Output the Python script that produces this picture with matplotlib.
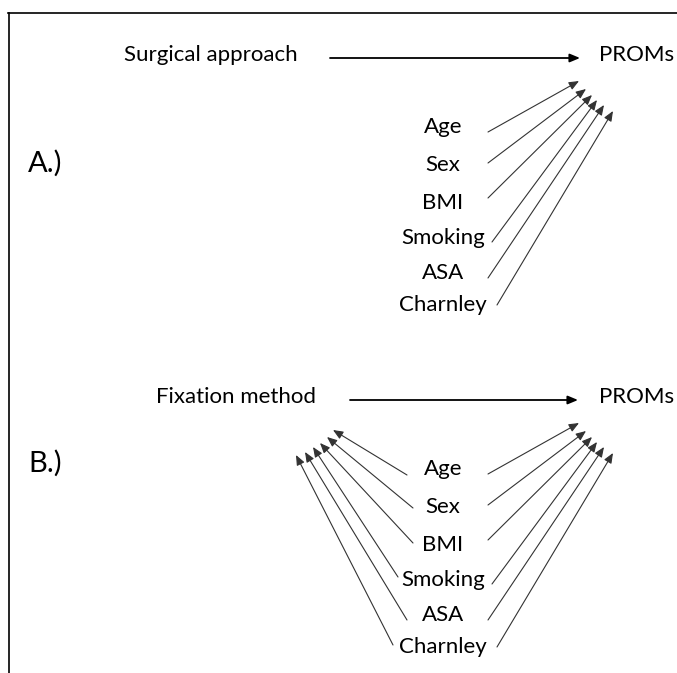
import matplotlib
matplotlib.use("Agg")
import matplotlib.pyplot as plt
from matplotlib.lines import Line2D

plt.rcParams['font.family'] = ['Lato', 'DejaVu Sans']

# Diagram content
covariates = ['Age', 'Sex', 'BMI', 'Smoking', 'ASA', 'Charnley']
exposures  = ['Surgical approach', 'Fixation method']
outcome    = 'PROMs'
panels     = ['A.)', 'B.)']
confounded = [False, True]   # does covariate also point at the exposure

# Layout (pixels, panel A; panel B is shifted down)
panel_shift = [0, 342]
label_x     = 443
label_y     = [127, 165, 203, 238, 273, 305]
# covariate -> outcome arrows
out_tail = [(488, 132), (488, 163), (488, 198), (492, 242), (488, 278), (497, 305)]
out_head = [(579, 81), (586, 89), (592, 95), (597, 100), (604, 105), (613, 111)]
# covariate -> exposure arrows (panel B only)
exp_tail = [(407, 133), (413, 166), (413, 201), (398, 235), (407, 278), (393, 303)]
exp_head = [(333, 88), (327, 95), (320, 101), (313, 105), (305, 110), (296, 113)]
exp_x    = [211, 236]
title_y  = 55
main_arrow = [(330, 580), (350, 578)]
panel_lab_y = [163, 463]

fig = plt.figure(figsize=(6.77, 6.73), dpi=100)
ax = fig.add_axes([0, 0, 1, 1])
ax.set_xlim(0, 677)
ax.set_ylim(673, 0)
ax.axis('off')

# frame lines (top and left)
fig.add_artist(Line2D([8 / 677, 1], [1 - 13 / 673, 1 - 13 / 673], color='black', lw=1.2))
fig.add_artist(Line2D([9 / 677, 9 / 677], [0, 1 - 13 / 673], color='black', lw=1.2))

thin = dict(arrowstyle='-|>,head_length=0.6,head_width=0.25', color='#333333', lw=0.8,
            shrinkA=0, shrinkB=0)
thick = dict(arrowstyle='-|>,head_length=0.6,head_width=0.25', color='black', lw=1.3,
             shrinkA=0, shrinkB=0)

for p in range(2):
    dy = panel_shift[p]
    ax.text(exp_x[p], title_y + dy, exposures[p], ha='center', va='center', fontsize=16)
    ax.text(637, title_y + dy, outcome, ha='center', va='center', fontsize=16)
    ax.annotate('', xy=(main_arrow[p][1], title_y + 3 + dy), xytext=(main_arrow[p][0], title_y + 3 + dy),
                arrowprops=thick)
    ax.text(45, panel_lab_y[p], panels[p], ha='center', va='center', fontsize=21)

    for i, cov in enumerate(covariates):
        ax.text(label_x, label_y[i] + dy, cov, ha='center', va='center', fontsize=16)
        ax.annotate('', xy=(out_head[i][0], out_head[i][1] + dy),
                    xytext=(out_tail[i][0], out_tail[i][1] + dy), arrowprops=thin)
        if confounded[p]:
            ax.annotate('', xy=(exp_head[i][0], exp_head[i][1] + dy),
                        xytext=(exp_tail[i][0], exp_tail[i][1] + dy), arrowprops=thin)

fig.savefig('out.png', dpi=100)
